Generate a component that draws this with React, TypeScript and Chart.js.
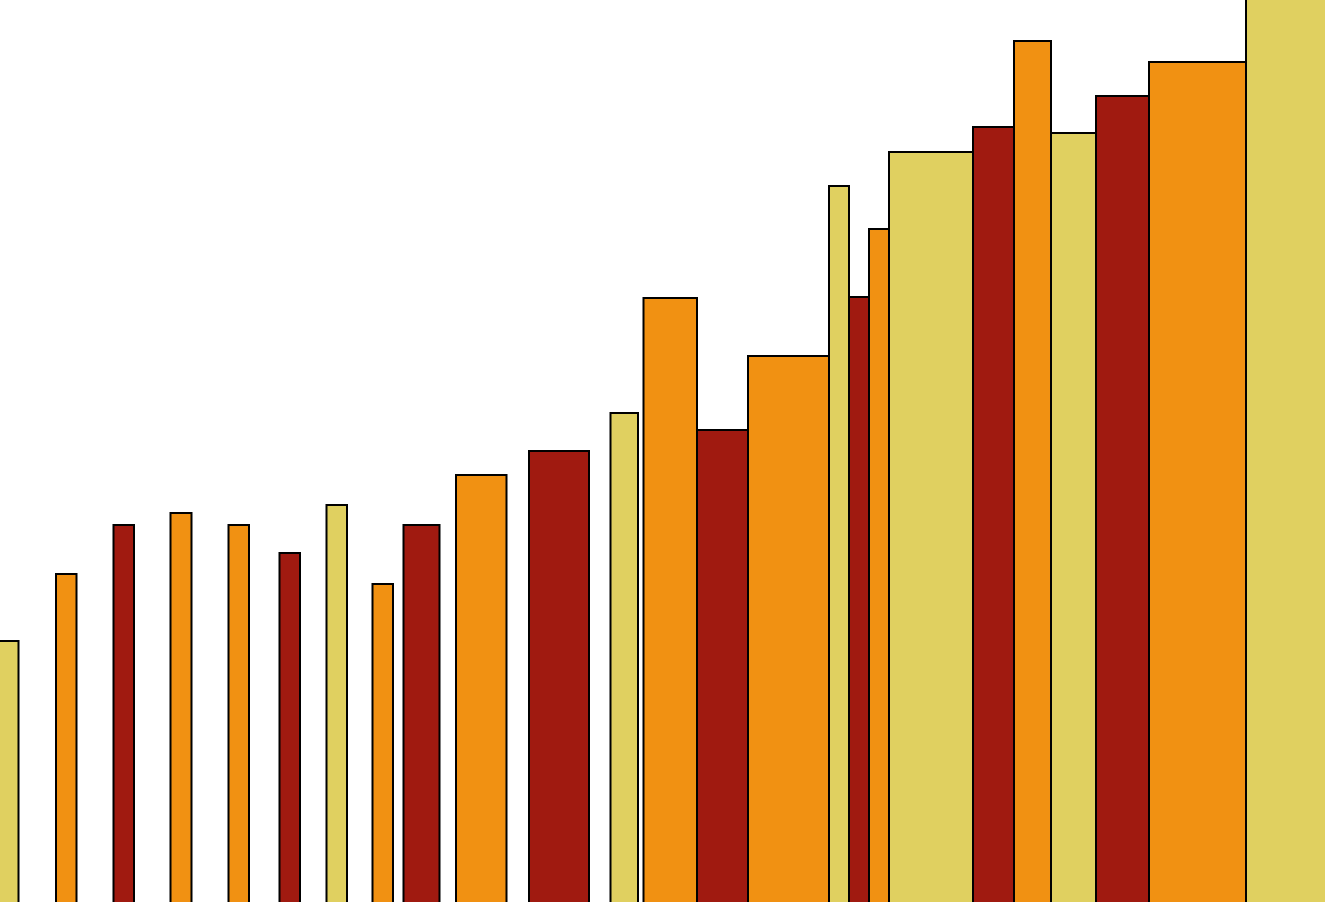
import React, { useEffect, useRef } from "react";
import { Chart, registerables } from "chart.js";

Chart.register(...registerables);

// Bar extents along the x axis (data units) and bar heights (data units)
const barStarts = [-1.0, 5.6, 11.35, 17.05, 22.85, 27.95, 32.65, 37.25, 40.35, 45.6, 52.9, 61.05, 64.35, 69.7, 74.8, 82.9, 84.9, 86.9, 88.9, 97.3, 101.4, 105.1, 109.6, 114.9, 124.6];
const barEnds = [1.85, 7.65, 13.4, 19.15, 24.9, 30.0, 34.7, 39.3, 43.95, 50.65, 58.9, 63.8, 69.7, 74.8, 82.9, 84.9, 86.9, 88.9, 97.3, 101.4, 105.1, 109.6, 114.9, 124.6, 134.0];
const barValues = [26.1, 32.8, 37.7, 38.9, 37.7, 34.9, 39.7, 31.8, 37.7, 42.7, 45.1, 48.9, 60.4, 47.2, 54.6, 71.6, 60.5, 67.3, 75.0, 77.5, 86.1, 76.9, 80.6, 84.0, 95.0];
const barColorKeys = ["Y", "O", "R", "O", "O", "R", "Y", "O", "R", "O", "R", "Y", "O", "R", "O", "Y", "R", "O", "Y", "R", "O", "Y", "R", "O", "Y"];

const palette: Record<string, string> = {
  Y: "#E0D060",
  O: "#F19112",
  R: "#A01A10",
};

const X_MIN = 0;
const X_MAX = 132.5;
const Y_MIN = 0;
const Y_MAX = 90.2;

export default function App() {
  const canvasRef = useRef<HTMLCanvasElement | null>(null);

  useEffect(() => {
    const canvas = canvasRef.current;
    if (!canvas) return;

    const datasets = barValues.map((v, i) => ({
      label: `bar${i + 1}`,
      data: [
        { x: barStarts[i], y: 0 },
        { x: barStarts[i], y: v },
        { x: barEnds[i], y: v },
        { x: barEnds[i], y: 0 },
      ],
      backgroundColor: palette[barColorKeys[i]],
      borderColor: "#000000",
      borderWidth: 2,
      borderJoinStyle: "miter" as const,
      fill: "origin",
      tension: 0,
      pointRadius: 0,
      pointHoverRadius: 0,
    }));

    const chart = new Chart(canvas, {
      type: "line",
      data: { datasets },
      options: {
        animation: false,
        responsive: true,
        maintainAspectRatio: false,
        layout: { padding: 0 },
        plugins: {
          legend: { display: false },
          tooltip: { enabled: false },
          title: { display: false },
        },
        scales: {
          x: { type: "linear", min: X_MIN, max: X_MAX, display: false },
          y: { type: "linear", min: Y_MIN, max: Y_MAX, display: false },
        },
      },
    });

    return () => chart.destroy();
  }, []);

  return (
    <div style={{ position: "fixed", left: 0, top: 0, width: "100vw", height: "100vh", background: "#ffffff" }}>
      <canvas ref={canvasRef} />
    </div>
  );
}
